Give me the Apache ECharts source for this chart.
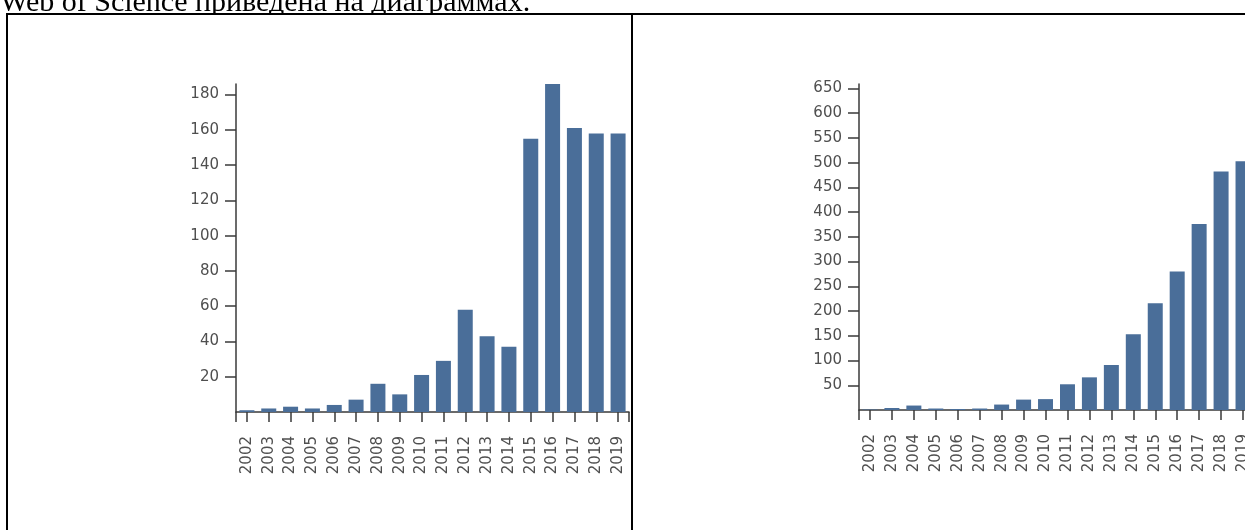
<!DOCTYPE html>
<html>
<head>
<meta charset="utf-8">
<script src="https://cdn.jsdelivr.net/npm/echarts@6/dist/echarts.min.js"></script>
<style>
  html, body { margin: 0; padding: 0; background: #fff; overflow: hidden; }
  #wrap { position: relative; width: 1245px; height: 530px; overflow: hidden; }
  #chart { position: absolute; left: 0; top: 0; width: 1300px; height: 530px; }
  .ln { position: absolute; background: #000; }
  #title { position: absolute; left: 0; top: 0; width: 1245px; height: 13px; overflow: hidden; }
  #title span { position: absolute; left: 0px; top: -14px; font-family: "Liberation Serif", "DejaVu Serif", serif; font-size: 30px; line-height: 30px; white-space: nowrap; color: #000; }
</style>
</head>
<body>
<div id="wrap">
  <div id="chart"></div>
  <div id="title"><span>Web of Science приведена на диаграммах.</span></div>
  <div class="ln" style="left:6px; top:13px; width:1239px; height:2px;"></div>
  <div class="ln" style="left:6px; top:13px; width:2px; height:517px;"></div>
  <div class="ln" style="left:631px; top:13px; width:2px; height:517px;"></div>
</div>
<script>
// ---- data ----
const years = ['2002','2003','2004','2005','2006','2007','2008','2009','2010','2011','2012','2013','2014','2015','2016','2017','2018','2019'];
const leftValues  = [1, 2, 3, 2, 4, 7, 16, 10, 21, 29, 58, 43, 37, 155, 186, 161, 158, 158];
const rightValues = [1, 4, 9, 3, 2, 3, 11, 21, 22, 52, 66, 91, 153, 216, 280, 376, 482, 503];
const leftTickStep = 20;
const leftAxisMax = 186;
const rightTickStep = 50;
const rightAxisMax = 659;

// ---- style ----
const barColor = '#4a6e99';
const axisColor = '#3a3a3a';
const textColor = '#4f4f4f';
const fontFam = '"DejaVu Sans", Verdana, sans-serif';
const fontSz = 15;

const chart = echarts.init(document.getElementById('chart'), null, { renderer: 'canvas' });

function yAxisDef(gridIndex, step, max) {
  return {
    type: 'value', gridIndex: gridIndex, min: 0, max: max, interval: step,
    splitLine: { show: false },
    axisLine: { show: true, lineStyle: { color: axisColor, width: 1.5 } },
    axisTick: { show: true, length: 11, lineStyle: { color: axisColor, width: 1.5 } },
    axisLabel: { show: true, showMinLabel: false, showMaxLabel: false, margin: 17,
                 color: textColor, fontSize: fontSz, fontFamily: fontFam,
                 formatter: function (v) { return (v > 0 && v % step === 0) ? String(v) : ''; } }
  };
}
function xAxisDef(gridIndex) {
  return {
    type: 'category', gridIndex: gridIndex, data: years, boundaryGap: true,
    axisLine: { show: true, lineStyle: { color: axisColor, width: 1.5 } },
    axisTick: { show: true, alignWithLabel: true, length: 10, lineStyle: { color: axisColor, width: 1.5 } },
    axisLabel: { show: true, rotate: 90, margin: 24, interval: 0, color: textColor,
                 fontSize: fontSz, fontFamily: fontFam }
  };
}
function xOuterTick(gridIndex) {
  return {
    type: 'category', gridIndex: gridIndex, data: years, boundaryGap: true, position: 'bottom',
    axisLine: { show: false },
    axisTick: { show: true, alignWithLabel: false, length: 10,
                interval: function (i) { return i === 0; },
                lineStyle: { color: axisColor, width: 1.5 } },
    axisLabel: { show: false }
  };
}

chart.setOption({
  animation: false,
  backgroundColor: '#ffffff',
  grid: [
    { left: 236, top: 84, width: 393, height: 328 },
    { left: 859, top: 84, width: 395, height: 326 }
  ],
  xAxis: [xAxisDef(0), xAxisDef(1), xOuterTick(0), xOuterTick(1)],
  yAxis: [yAxisDef(0, leftTickStep, leftAxisMax), yAxisDef(1, rightTickStep, rightAxisMax)],
  series: [
    { type: 'bar', xAxisIndex: 0, yAxisIndex: 0, data: leftValues, barWidth: 15,
      itemStyle: { color: barColor } },
    { type: 'bar', xAxisIndex: 1, yAxisIndex: 1, data: rightValues, barWidth: 15,
      itemStyle: { color: barColor } }
  ]
});
</script>
</body>
</html>
